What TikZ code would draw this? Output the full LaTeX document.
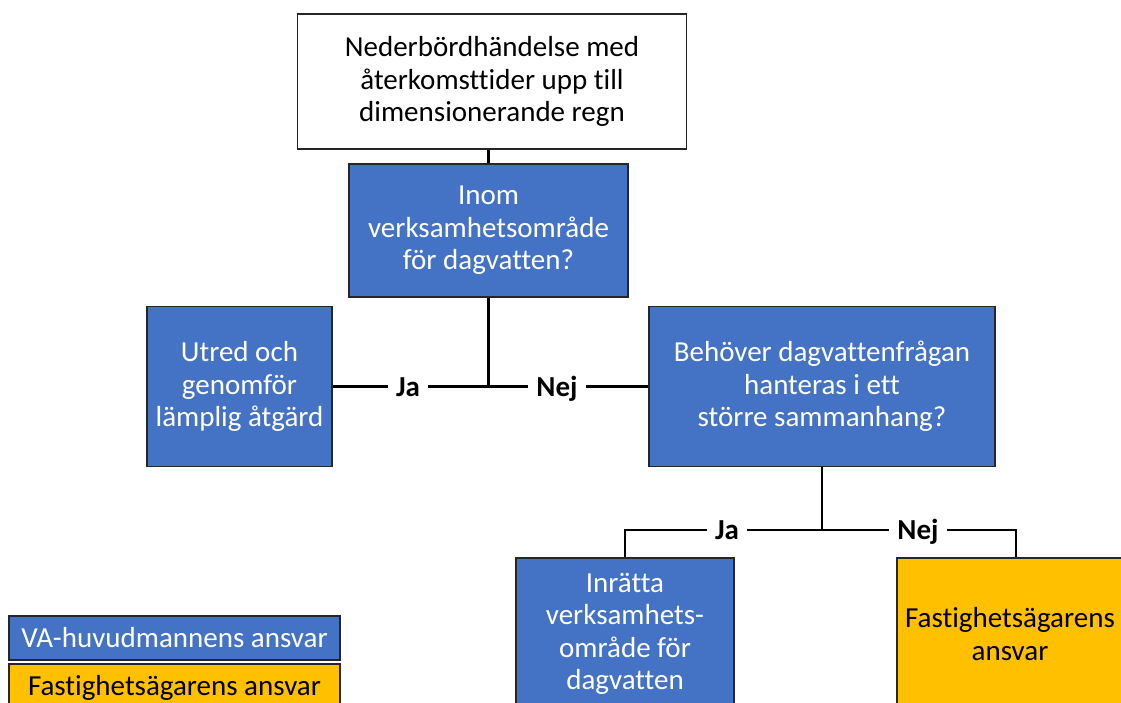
\documentclass[tikz,border=0pt]{standalone}
\usepackage{fontspec}
\setmainfont{Carlito}[Ligatures=NoCommon]
\definecolor{boxblue}{HTML}{4472C4}
\definecolor{boxyellow}{HTML}{FFC000}
\definecolor{edge}{HTML}{262626}
\begin{document}
\begin{tikzpicture}[x=1pt,y=-1pt,
  txt/.style={font=\fontsize{29}{32.5}\selectfont},
  box/.style={txt, draw=edge, line width=1.5pt, align=center, inner sep=0pt, text=white, fill=boxblue},
  whitebox/.style={box, fill=white, text=black},
  yellowbox/.style={box, fill=boxyellow, text=black},
  conn/.style={line width=2.4pt, black},
  lbl/.style={font=\fontsize{29}{32}\selectfont\bfseries, fill=white, inner xsep=8pt, inner ysep=2pt, anchor=base}]
\useasboundingbox (0,0) rectangle (1121,702);
\clip (0,0) rectangle (1121,702);
\fill[white] (0,0) rectangle (1121,702);
% boxes
\node[whitebox, minimum width=389pt, minimum height=135pt] (top) at (492,81.5)
  {Nederbördhändelse med\\återkomsttider upp till\\dimensionerande regn};
\node[box, minimum width=279pt, minimum height=133pt] (inom) at (488.5,230.5)
  {Inom\\verksamhetsområde\\för dagvatten?};
\node[box, minimum width=185pt, minimum height=160pt] (utred) at (239.5,386.5)
  {Utred och\\genomför\\lämplig åtgärd};
\node[box, minimum width=346pt, minimum height=160pt] (beh) at (822,386.5)
  {Behöver dagvattenfrågan\\hanteras i ett\\större sammanhang?};
\node[box, minimum width=218pt, minimum height=152pt] (inr) at (625,634)
  {Inrätta\\verksamhets-\\område för\\dagvatten};
\node[yellowbox, minimum width=226pt, minimum height=152pt] (fast) at (1010,634)
  {Fastighetsägarens\\ansvar};
\node[box, minimum width=331pt, minimum height=44pt] (leg1) at (174.5,638)
  {VA-huvudmannens ansvar};
\node[yellowbox, minimum width=331pt, minimum height=48pt] (leg2) at (174.5,688)
  {Fastighetsägarens ansvar};
% connectors
\draw[conn] (inom.north) -- (inom.north |- top.south);
\draw[conn] (inom.south) -- (inom.south |- utred.east);
\draw[conn] (utred.east) -- (beh.west);
\coordinate (j2) at (822,530);
\coordinate (r) at (1016,530);
\draw[conn] (beh.south) -- (j2);
\draw[conn] (inr.north) |- (r) -- (r |- fast.north);
% labels
\node[lbl] (ja1) at (408,396) {Ja};
\node[lbl] (nej1) at (557,396) {Nej};
\node[lbl] (ja2) at (727,539) {Ja};
\node[lbl] (nej2) at (918,539) {Nej};
\end{tikzpicture}
\end{document}
